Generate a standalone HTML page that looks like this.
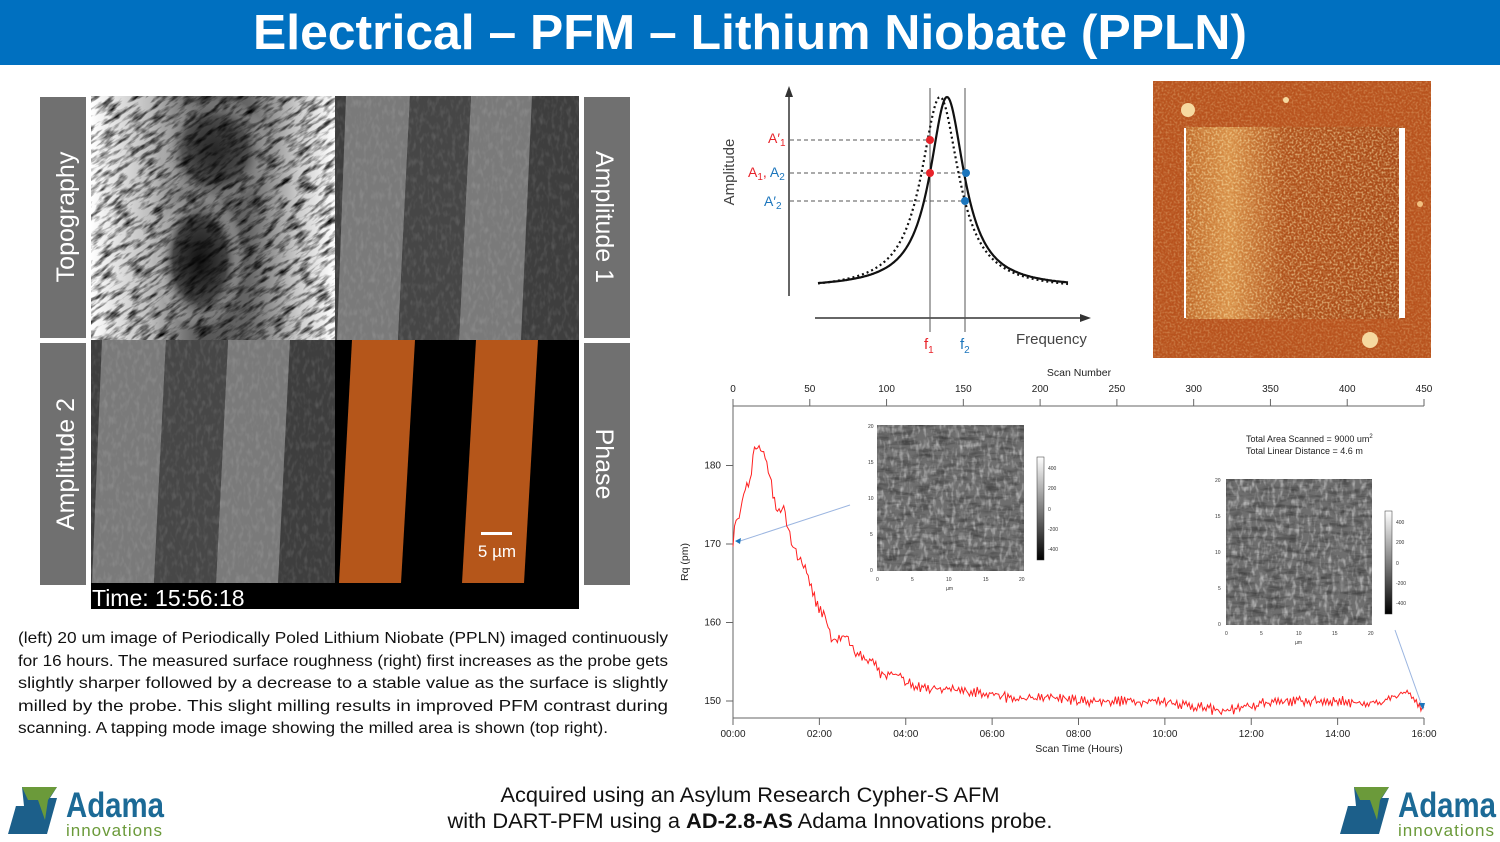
<!DOCTYPE html>
<html><head><meta charset="utf-8"><style>
html,body{margin:0;padding:0;background:#fff;}
svg{display:block}
text{font-family:"Liberation Sans",Arial,sans-serif}
</style></head><body>
<svg id="s" width="1500" height="842" viewBox="0 0 1500 842" xmlns="http://www.w3.org/2000/svg">
<defs>
<filter id="topo" x="0" y="0" width="100%" height="100%">
 <feTurbulence type="fractalNoise" baseFrequency="0.06 0.22" numOctaves="3" seed="4"/>
 <feColorMatrix type="matrix" values="0 0 0 0 0  0 0 0 0 0  0 0 0 0 0  0 0 0 -2.2 1.25"/>
</filter>
<filter id="gn" x="0" y="0" width="100%" height="100%">
 <feTurbulence type="fractalNoise" baseFrequency="0.25 0.12" numOctaves="2" seed="7"/>
 <feColorMatrix type="matrix" values="0 0 0 0 1  0 0 0 0 1  0 0 0 0 1  0 0 0 -2.2 1.2"/>
</filter>
<filter id="or" x="0" y="0" width="100%" height="100%">
 <feTurbulence type="fractalNoise" baseFrequency="0.5" numOctaves="1" seed="3"/>
 <feColorMatrix type="matrix" values="0 0 0 0 1  0 0 0 0 0.85  0 0 0 0 0.45  0 0 0 -3 1.75"/>
</filter>
<radialGradient id="blob" cx="0.5" cy="0.5" r="0.5">
 <stop offset="0" stop-color="#111"/><stop offset="0.6" stop-color="#444"/><stop offset="1" stop-color="#fff" stop-opacity="0"/>
</radialGradient>
<linearGradient id="topoL" x1="0" x2="1">
 <stop offset="0" stop-color="#fff"/><stop offset="0.25" stop-color="#bbb"/><stop offset="0.45" stop-color="#555"/><stop offset="0.65" stop-color="#666"/><stop offset="0.85" stop-color="#ccc"/><stop offset="1" stop-color="#fff"/>
</linearGradient>
<linearGradient id="afmL" x1="0" x2="1">
 <stop offset="0" stop-color="#c06a2a"/><stop offset="0.2" stop-color="#d89048"/><stop offset="0.45" stop-color="#b0521c"/><stop offset="1" stop-color="#a84a18"/>
</linearGradient>
<clipPath id="cTopo"><rect x="91" y="96" width="244" height="244"/></clipPath>
<clipPath id="cA1"><rect x="335" y="96" width="244" height="244"/></clipPath>
<clipPath id="cA2"><rect x="91" y="340" width="244" height="243"/></clipPath>
<clipPath id="cI1"><rect x="877" y="425" width="147" height="146"/></clipPath>
<clipPath id="cI2"><rect x="1226" y="479" width="146" height="146"/></clipPath>
</defs>

<rect x="0" y="0" width="1500" height="65" fill="#0070c0"/>
<text x="750" y="49" text-anchor="middle" font-size="49" font-weight="bold" fill="#fff" textLength="994" lengthAdjust="spacingAndGlyphs">Electrical – PFM – Lithium Niobate (PPLN)</text>

<rect x="40" y="97" width="46" height="241" fill="#707070"/>
<rect x="40" y="343" width="46" height="242" fill="#707070"/>
<rect x="584" y="97" width="46" height="241" fill="#707070"/>
<rect x="584" y="343" width="46" height="242" fill="#707070"/>
<text transform="translate(74,217) rotate(-90)" text-anchor="middle" font-size="25" fill="#fff">Topography</text>
<text transform="translate(74,464) rotate(-90)" text-anchor="middle" font-size="25" fill="#fff">Amplitude 2</text>
<text transform="translate(596,217) rotate(90)" text-anchor="middle" font-size="25" fill="#fff">Amplitude 1</text>
<text transform="translate(596,464) rotate(90)" text-anchor="middle" font-size="25" fill="#fff">Phase</text>

<g clip-path="url(#cTopo)">
 <rect x="91" y="96" width="244" height="244" fill="url(#topoL)"/>
 <ellipse cx="200" cy="260" rx="45" ry="70" fill="url(#blob)"/>
 <ellipse cx="215" cy="150" rx="55" ry="55" fill="url(#blob)" opacity="0.7"/>
 <rect x="-10" y="0" width="450" height="450" filter="url(#topo)" transform="rotate(-35 213 218)"/>
</g>
<g clip-path="url(#cA1)">
 <rect x="335" y="96" width="244" height="244" fill="#3e3e3e"/>
 <polygon points="346,96 410,96 398,340 337,340" fill="#7a7a7a"/>
 <polygon points="471,96 532,96 521,340 459,340" fill="#7a7a7a"/>
 <polygon points="410,96 471,96 459,340 398,340" fill="#464646"/>
 <rect x="335" y="96" width="244" height="244" filter="url(#gn)" opacity="0.12"/>
</g>
<g clip-path="url(#cA2)">
 <rect x="91" y="340" width="244" height="243" fill="#3e3e3e"/>
 <polygon points="102,340 166,340 154,583 92,583" fill="#7a7a7a"/>
 <polygon points="228,340 290,340 278,583 216,583" fill="#7a7a7a"/>
 <polygon points="166,340 228,340 216,583 154,583" fill="#474747"/>
 <rect x="91" y="340" width="244" height="243" filter="url(#gn)" opacity="0.12"/>
</g>
<rect x="335" y="340" width="244" height="269" fill="#000"/>
<polygon points="352,340 415,340 401,583 339,583" fill="#b5561a"/>
<polygon points="476,340 538,340 524,583 462,583" fill="#b5561a"/>
<rect x="91" y="583" width="244" height="26" fill="#000"/>
<rect x="481" y="532" width="31" height="3" fill="#fff"/>
<text x="497" y="557" text-anchor="middle" font-size="17" fill="#fff">5 µm</text>
<text x="92" y="606" font-size="23" fill="#fff">Time: 15:56:18</text>

<g font-size="16" fill="#111">
<text x="18" y="643" textLength="650" lengthAdjust="spacingAndGlyphs">(left) 20 um image of Periodically Poled Lithium Niobate (PPLN) imaged continuously</text>
<text x="18" y="666" textLength="650" lengthAdjust="spacingAndGlyphs">for 16 hours. The measured surface roughness (right) first increases as the probe gets</text>
<text x="18" y="688" textLength="650" lengthAdjust="spacingAndGlyphs">slightly sharper followed by a decrease to a stable value as the surface is slightly</text>
<text x="18" y="711" textLength="650" lengthAdjust="spacingAndGlyphs">milled by the probe. This slight milling results in improved PFM contrast during</text>
<text x="18" y="733" textLength="590" lengthAdjust="spacingAndGlyphs">scanning. A tapping mode image showing the milled area is shown (top right).</text>
</g>

<g stroke="#333" fill="none">
 <line x1="789" y1="296" x2="789" y2="92" stroke-width="1.5"/>
 <polygon points="789,86 785,97 793,97" fill="#333" stroke="none"/>
 <line x1="815" y1="318" x2="1085" y2="318" stroke-width="1.5"/>
 <polygon points="1091,318 1080,314 1080,322" fill="#333" stroke="none"/>
 <line x1="930" y1="88" x2="930" y2="332" stroke-width="1" stroke="#555"/>
 <line x1="965" y1="88" x2="965" y2="332" stroke-width="1" stroke="#555"/>
 <g stroke-dasharray="4,3" stroke="#555" stroke-width="1">
  <line x1="790" y1="140" x2="930" y2="140"/>
  <line x1="790" y1="173" x2="965" y2="173"/>
  <line x1="790" y1="201" x2="965" y2="201"/>
 </g>
 <path id="sol" stroke="#111" stroke-width="2.2"/>
 <path id="dot" stroke="#111" stroke-width="2.2" stroke-dasharray="2,3"/>
</g>
<circle cx="930" cy="140" r="4" fill="#e8232a"/>
<circle cx="930" cy="173" r="4" fill="#e8232a"/>
<circle cx="966" cy="173" r="4" fill="#1b75bc"/>
<circle cx="965" cy="201" r="4" fill="#1b75bc"/>
<text transform="translate(734,172) rotate(-90)" text-anchor="middle" font-size="15" fill="#444">Amplitude</text>
<text x="768" y="143" font-size="14" fill="#e8232a">A′<tspan font-size="10" dy="3">1</tspan></text>
<text x="748" y="177" font-size="14" fill="#e8232a">A<tspan font-size="10" dy="3">1</tspan><tspan dy="-3">,</tspan> <tspan fill="#1b75bc">A<tspan font-size="10" dy="3">2</tspan></tspan></text>
<text x="764" y="206" font-size="14" fill="#1b75bc">A′<tspan font-size="10" dy="3">2</tspan></text>
<text x="924" y="349" font-size="15" fill="#e8232a">f<tspan font-size="10" dy="4">1</tspan></text>
<text x="960" y="349" font-size="15" fill="#1b75bc">f<tspan font-size="10" dy="4">2</tspan></text>
<text x="1016" y="344" font-size="15" fill="#444">Frequency</text>

<rect x="1153" y="81" width="278" height="277" fill="#b8531e"/>
<rect x="1153" y="81" width="278" height="277" filter="url(#or)" opacity="0.25"/>
<rect x="1186" y="127" width="218" height="192" fill="url(#afmL)"/>
<rect x="1186" y="127" width="218" height="192" filter="url(#or)" opacity="0.55"/>
<rect x="1184" y="128" width="2" height="190" fill="#fff"/>
<rect x="1399" y="128" width="6" height="190" fill="#fff"/>
<circle cx="1188" cy="110" r="7" fill="#f6d9a0"/>
<circle cx="1370" cy="340" r="8" fill="#f6d9a0"/>
<circle cx="1286" cy="100" r="3" fill="#f6d9a0"/>
<circle cx="1420" cy="204" r="3" fill="#f2c080"/>

<g stroke="#666" stroke-width="1" fill="none">
 <line x1="733" y1="406" x2="1424" y2="406"/>
 <line x1="733" y1="406" x2="733" y2="718"/>
 <line x1="733" y1="718" x2="1424" y2="718"/>
 <line x1="1424" y1="399" x2="1424" y2="406"/>
</g>
<g id="ticks" stroke="#666" stroke-width="1"></g>
<g id="labs" font-size="10" fill="#222" text-anchor="middle"></g>
<text x="1079" y="376" font-size="10.5" text-anchor="middle" fill="#222">Scan Number</text>
<text x="1079" y="752" font-size="10.5" text-anchor="middle" fill="#222">Scan Time (Hours)</text>
<text transform="translate(688,562) rotate(-90)" font-size="10.5" text-anchor="middle" fill="#222">Rq (pm)</text>
<text x="1246" y="442" font-size="9" fill="#222">Total Area Scanned = 9000 um<tspan font-size="6" dy="-4">2</tspan></text>
<text x="1246" y="454" font-size="9" fill="#222">Total Linear Distance = 4.6 m</text>

<g clip-path="url(#cI1)">
 <rect x="877" y="425" width="147" height="146" fill="#6e6e6e"/>
 <rect x="877" y="425" width="147" height="146" filter="url(#gn)" opacity="0.55"/>
 <rect x="877" y="425" width="147" height="146" filter="url(#topo)" opacity="0.4"/>
</g>
<g clip-path="url(#cI2)">
 <rect x="1226" y="479" width="146" height="146" fill="#6e6e6e"/>
 <rect x="1226" y="479" width="146" height="146" filter="url(#gn)" opacity="0.55"/>
 <rect x="1226" y="479" width="146" height="146" filter="url(#topo)" opacity="0.4"/>
</g>
<defs><linearGradient id="cb" x1="0" y1="1" x2="0" y2="0"><stop offset="0" stop-color="#000"/><stop offset="1" stop-color="#fff"/></linearGradient></defs>
<rect x="1037" y="457" width="7" height="103" fill="url(#cb)" stroke="#333" stroke-width="0.5"/>
<rect x="1385" y="511" width="7" height="103" fill="url(#cb)" stroke="#333" stroke-width="0.5"/>
<g font-size="5" fill="#333">
 <text x="868" y="428">20</text><text x="868" y="464">15</text><text x="868" y="500">10</text><text x="870" y="536">5</text><text x="870" y="572">0</text>
 <text x="876" y="581">0</text><text x="911" y="581">5</text><text x="946" y="581">10</text><text x="983" y="581">15</text><text x="1019" y="581">20</text>
 <text x="946" y="590">µm</text>
 <text x="1048" y="470">400</text><text x="1048" y="490">200</text><text x="1048" y="511">0</text><text x="1048" y="531">-200</text><text x="1048" y="551">-400</text>
 <text x="1215" y="482">20</text><text x="1215" y="518">15</text><text x="1215" y="554">10</text><text x="1218" y="590">5</text><text x="1218" y="626">0</text>
 <text x="1225" y="635">0</text><text x="1260" y="635">5</text><text x="1296" y="635">10</text><text x="1332" y="635">15</text><text x="1368" y="635">20</text>
 <text x="1295" y="644">µm</text>
 <text x="1396" y="524">400</text><text x="1396" y="544">200</text><text x="1396" y="565">0</text><text x="1396" y="585">-200</text><text x="1396" y="605">-400</text>
</g>
<line x1="850" y1="505" x2="737" y2="542" stroke="#9bb5e0" stroke-width="1"/>
<line x1="1395" y1="630" x2="1422" y2="706" stroke="#9bb5e0" stroke-width="1"/>
<path id="red" fill="none" stroke="#ff2020" stroke-width="1"/>
<polygon points="735,541 741,538 740,544" fill="#1b75bc"/>
<polygon points="1423,710 1419,703 1425,703" fill="#1b75bc"/>

<text x="750" y="802" font-size="21" text-anchor="middle" fill="#111" textLength="499" lengthAdjust="spacingAndGlyphs">Acquired using an Asylum Research Cypher-S AFM</text>
<text x="750" y="828" font-size="21" text-anchor="middle" fill="#111" textLength="605" lengthAdjust="spacingAndGlyphs">with DART-PFM using a <tspan font-weight="bold">AD-2.8-AS</tspan> Adama Innovations probe.</text>

<g id="logo">
 <polygon points="22,787 57,787 50,798 57,798 47,834 8,834 16,806 24,806" fill="#1c5f8a"/>
 <polygon points="22,787 57,787 48,800 45,820 38,800 28,800" fill="#6b9a3a"/>
 <polygon points="16,806 24,806 38,830 38,834 10,834" fill="#1c5f8a"/>
 <text x="66" y="817" font-size="35" fill="#1c6a96" font-weight="bold" font-family="DejaVu Sans Condensed, Liberation Sans Narrow, sans-serif" textLength="98" lengthAdjust="spacingAndGlyphs">Adama</text>
 <text x="66" y="836" font-size="17" fill="#6b9a3a" letter-spacing="2" textLength="98" lengthAdjust="spacing">innovations</text>
</g>
<use href="#logo" transform="translate(1332,0)"/>
</svg>
<script>
(function(){
var NS="http://www.w3.org/2000/svg";
function X(h){return 733+h*(1424-733)/16;}
function Y(v){return 701-(v-150)*7.85;}
function lor(x0,w,py,base){var d="";for(var x=818;x<=1068;x+=1){var y=base-(base-py)/(1+Math.pow((x-x0)/w,2));d+=(x==818?"M":"L")+x+","+y.toFixed(1);}return d;}
document.getElementById("sol").setAttribute("d",lor(947,21,97,288));
document.getElementById("dot").setAttribute("d",lor(940,23,97,290));
var tk=document.getElementById("ticks"),lb=document.getElementById("labs");
function ln(a,b,c,d){var l=document.createElementNS(NS,"line");l.setAttribute("x1",a);l.setAttribute("y1",b);l.setAttribute("x2",c);l.setAttribute("y2",d);tk.appendChild(l);}
function tx(x,y,s,anc){var t=document.createElementNS(NS,"text");t.setAttribute("x",x);t.setAttribute("y",y);t.textContent=s;if(anc)t.setAttribute("text-anchor",anc);lb.appendChild(t);}
for(var i=0;i<=9;i++){var x=733+i*(1424-733)/9;ln(x,399,x,406);tx(x,392,String(i*50));}
for(var h=0;h<=16;h+=2){var x=X(h);ln(x,718,x,725);tx(x,737,(h<10?"0":"")+h+":00");}
[150,160,170,180].forEach(function(v){ln(726,Y(v),733,Y(v));tx(721,Y(v)+3,String(v),"end");});
var P=[[0,170.5],[0.1,173.5],[0.25,176],[0.4,178.5],[0.5,182],[0.6,183],[0.75,181],[0.9,177],[1.0,174.5],[1.1,174],[1.2,174],[1.3,171],[1.5,168.5],[1.7,166.5],[1.9,163],[2.1,161],[2.3,158],[2.6,158.5],[2.9,155.5],[3.3,155],[3.4,153.5],[3.8,153.5],[4.0,152.3],[4.5,151.6],[5,151.4],[6,151],[6.5,150.2],[7.5,150.5],[8,150],[10,150],[11.3,148.7],[12,149.3],[12.5,150],[14,150],[15,149.6],[15.5,151],[15.7,150.8],[16,149]];
function interp(h){for(var i=1;i<P.length;i++){if(h<=P[i][0]){var a=P[i-1],b=P[i];return a[1]+(b[1]-a[1])*(h-a[0])/(b[0]-a[0]);}}return P[P.length-1][1];}
var d="",s=12345;function rnd(){s=(s*16807)%2147483647;return s/2147483647;}
var N=450;for(var k=0;k<=N;k++){var h=16*k/N;var v=interp(h)+(rnd()-0.5)*(h<3?1.4:0.9)+((k%2)?0.25:-0.25);d+=(k?"L":"M")+X(h).toFixed(1)+","+Y(v).toFixed(1);}
document.getElementById("red").setAttribute("d",d);
})();
</script>
</body></html>
